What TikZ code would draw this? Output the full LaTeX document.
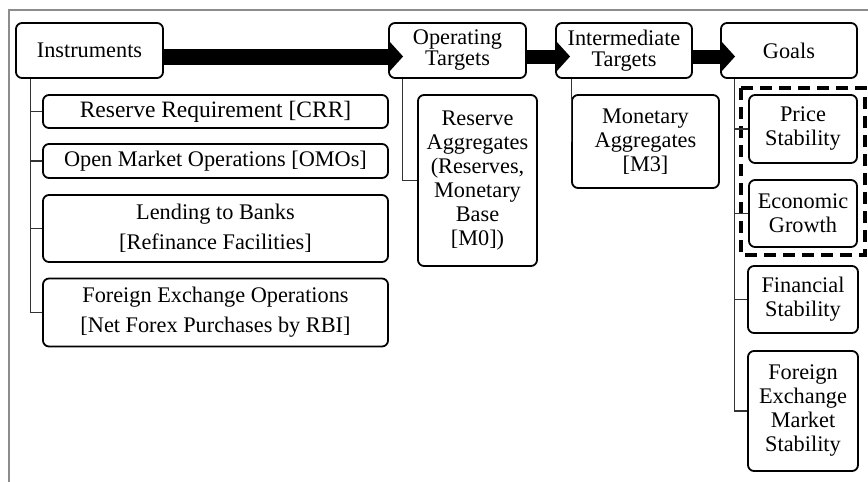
\documentclass[tikz,border=0pt]{standalone}
\usepackage{fontspec}
\setmainfont{Liberation Serif}
\usetikzlibrary{arrows.meta}
\begin{document}
\begin{tikzpicture}[x=1pt,y=-1pt,
  box/.style={draw=black, fill=white, line width=1.8pt, rounded corners=6pt,
    align=center, inner sep=0pt, font=\fontsize{22.3}{24}\selectfont},
  head/.style={box, minimum height=55pt, font=\fontsize{22.3}{21}\selectfont},
  wide/.style={box, minimum width=345pt, font=\fontsize{22.3}{30}\selectfont},
  conn/.style={draw=black!80, line width=1.1pt},
  flow/.style={line width=16pt, -{Triangle[length=14pt,width=30pt]}},
  frame/.style={draw=black!45, line width=1.8pt}]
\useasboundingbox (0,0) rectangle (868,482);
\draw[frame] (9,482) -- (9,10) -- (868,10);

% headline boxes
\node[head, minimum width=147pt] (instr) at (89.5,50.5) {Instruments};
\node[head, minimum width=137pt] (op) at (457.5,50.5) {Operating\\Targets};
\node[head, minimum width=136pt] (inter) at (624,50.5) {Intermediate\\Targets};
\node[head, minimum width=136pt] (goals) at (789,50.5) {Goals};

% instruments
\node[wide, minimum height=33pt, font=\fontsize{23.5}{28}\selectfont] (crr) at (215.5,111.5) {Reserve Requirement [CRR]};
\node[wide, minimum height=34pt] (omo) at (215.5,161) {Open Market Operations [OMOs]};
\node[wide, minimum height=67pt] (lend) at (215.5,228.5) {Lending to Banks\\{[Refinance Facilities]}};
\node[wide, minimum height=68pt] (fxo) at (215.5,312.5) {Foreign Exchange Operations\\{[Net Forex Purchases by RBI]}};

% targets
\node[box, minimum width=119pt, minimum height=171pt] (resagg) at (477.5,180.5)
  {Reserve\\Aggregates\\(Reserves,\\Monetary\\Base\\{[M0])}};
\node[box, minimum width=147pt, minimum height=93pt] (monagg) at (645.5,141.5)
  {Monetary\\Aggregates\\{[M3]}};

% goals
\draw[line width=3.5pt, dash pattern=on 12pt off 7pt] (741,88) rectangle (865,255);
\node[box, minimum width=108pt, minimum height=68pt] (price) at (803,129) {Price\\Stability};
\node[box, minimum width=108pt, minimum height=67pt] (econ) at (803,213.5) {Economic\\Growth};
\node[box, minimum width=110pt, minimum height=67pt] (fin) at (803,299.5) {Financial\\Stability};
\node[box, minimum width=110pt, minimum height=120pt] (fxm) at (803,411) {Foreign\\Exchange\\Market\\Stability};

% tree connectors
\coordinate (ispine) at ([xshift=15pt]instr.south west);
\draw[conn] (ispine) |- (fxo.west);
\draw[conn] (ispine |- crr.west) -- (crr.west);
\draw[conn] (ispine |- omo.west) -- (omo.west);
\draw[conn] (ispine |- lend.west) -- (lend.west);

\draw[conn] ([xshift=14pt]op.south west) |- (resagg.west);
\draw[conn] (monagg.west |- inter.south) -- (monagg.west);

\coordinate (gspine) at ([xshift=14pt]goals.south west);
\draw[conn] (gspine) |- (fxm.west);
\draw[conn] (gspine |- price.west) -- (price.west);
\draw[conn] (gspine |- econ.west) -- (econ.west);
\draw[conn] (gspine |- fin.west) -- (fin.west);

% flow arrows
\draw[flow] ([yshift=-6pt]instr.east) -- ([xshift=15pt,yshift=-6pt]op.west);
\draw[flow, line width=14pt] ([yshift=-6pt]op.east) -- ([xshift=15pt,yshift=-6pt]inter.west);
\draw[flow, line width=14pt] ([yshift=-6pt]inter.east) -- ([xshift=15pt,yshift=-6pt]goals.west);
\end{tikzpicture}
\end{document}
